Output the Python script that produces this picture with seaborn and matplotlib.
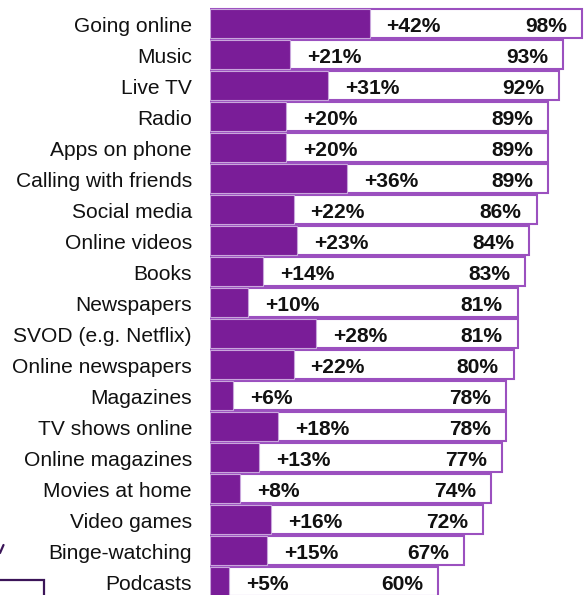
import matplotlib
matplotlib.use("Agg")
import matplotlib.pyplot as plt
from matplotlib.patches import Rectangle
from matplotlib.lines import Line2D
from matplotlib.transforms import ScaledTranslation
import seaborn as sns
import pandas as pd

categories = [
    "Going online", "Music", "Live TV", "Radio", "Apps on phone",
    "Calling with friends", "Social media", "Online videos", "Books",
    "Newspapers", "SVOD (e.g. Netflix)", "Online newspapers", "Magazines",
    "TV shows online", "Online magazines", "Movies at home", "Video games",
    "Binge-watching", "Podcasts",
]
total_share = [98, 93, 92, 89, 89, 89, 86, 84, 83, 81, 81, 80, 78, 78, 77, 74, 72, 67, 60]
increase = [42, 21, 31, 20, 20, 36, 22, 23, 14, 10, 28, 22, 6, 18, 13, 8, 16, 15, 5]

PURPLE = "#7a1d98"
EDGE = "#9b50bf"
DARK = "#3b1558"

df = pd.DataFrame({"category": categories, "total": total_share, "increase": increase})

sns.set_theme(style="white")
plt.rcParams["font.family"] = ["Liberation Sans", "DejaVu Sans"]

W, H, DPI = 586, 595, 100
fig = plt.figure(figsize=(W / DPI, H / DPI), dpi=DPI)
ax = fig.add_axes([210 / W, 0, 376 / W, 1])

sns.barplot(data=df, x="total", y="category", order=categories, orient="h",
            color="white", edgecolor=EDGE, linewidth=1.5, width=0.935,
            saturation=1, ax=ax)
sns.barplot(data=df, x="increase", y="category", order=categories, orient="h",
            color=PURPLE, edgecolor="#c9a6dc", linewidth=0.8, width=0.935,
            saturation=1, ax=ax)

ax.set_xlim(0, 99)
ax.set_ylim(18.426, -0.768)
ax.set_xlabel("")
ax.set_ylabel("")
ax.set_xticks([])
for s in ax.spines.values():
    s.set_visible(False)

ax.tick_params(axis="y", length=0, pad=13, labelsize=15.1, labelcolor="#111111")
shift = ScaledTranslation(0, -8.3 / DPI, fig.dpi_scale_trans)
for lbl in ax.get_yticklabels():
    lbl.set_verticalalignment("baseline")
    lbl.set_transform(lbl.get_transform() + shift)

px = 99 / 376  # data units per pixel along x
for i, (tot, inc) in enumerate(zip(total_share, increase)):
    ax.text(inc + 17 * px, i, f"+{inc}%", ha="left", va="baseline",
            fontsize=15.1, fontweight="bold", color="#111111",
            transform=ax.transData + shift)
    ax.text(tot - 15 * px, i, f"{tot}%", ha="right", va="baseline",
            fontsize=15.1, fontweight="bold", color="#111111",
            transform=ax.transData + shift)

# Edge pieces of the neighbouring panel at the lower left
fig.add_artist(Rectangle((-0.05, -0.05), 0.05 + 44 / W, 0.05 + (H - 580) / H,
                         transform=fig.transFigure, fill=False,
                         edgecolor=DARK, linewidth=1.6))
fig.add_artist(Line2D([0 / W, 3.5 / W], [(H - 553) / H, (H - 545) / H],
                      transform=fig.transFigure, color=DARK, linewidth=1.6))

fig.savefig("out.png", dpi=DPI)
